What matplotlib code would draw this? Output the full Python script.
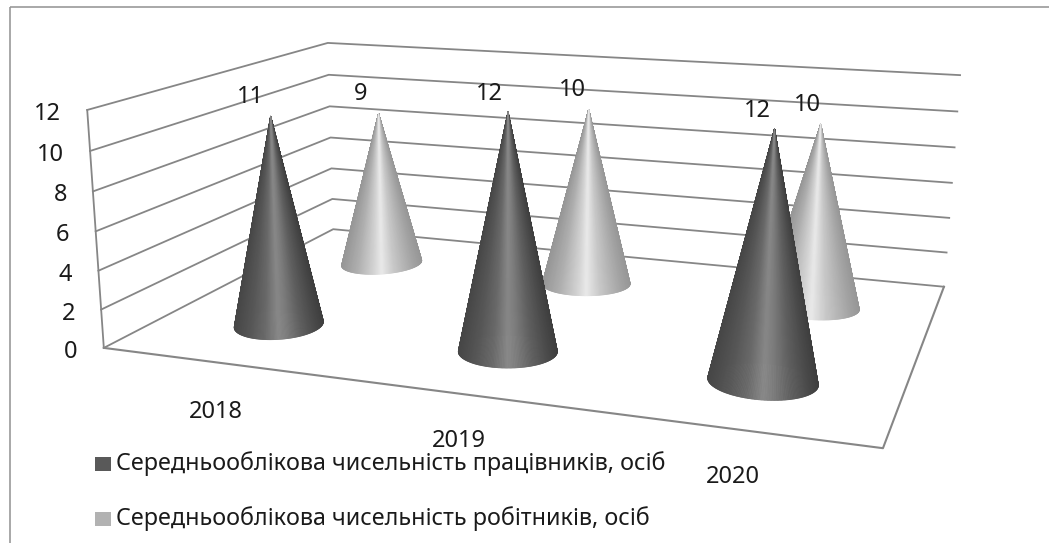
import numpy as np
import matplotlib
matplotlib.use('Agg')
from matplotlib import pyplot as plt
from matplotlib.collections import PolyCollection
from matplotlib.patches import Rectangle

years = ['2018', '2019', '2020']
series_names = ['Середньооблікова чисельність працівників, осіб',
                'Середньооблікова чисельність робітників, осіб']
workers_all = [11, 12, 12]
workers_manual = [9, 10, 10]
yticks = [0, 2, 4, 6, 8, 10, 12]

plt.rcParams['font.family'] = ['Noto Sans', 'DejaVu Sans']
TEXT = '#1a1a1a'
LINE = '#868686'

# scene coords: u along the years, v into the depth, z value -> screen pixels
scene = [(0, 0, 0), (0, 0, 12), (0, 2, 0), (0, 2, 12), (3, 2, 0), (3, 2, 12), (3, 0, 0)]
screen = [(104, 348), (87, 110), (333, 229), (328, 43), (944, 287), (960, 75), (883, 448)]


def fit_camera(pts3, pts2):
    rows = []
    for (u, v, z), (x, y) in zip(pts3, pts2):
        rows.append([u, v, z, 1, 0, 0, 0, 0, -x*u, -x*v, -x*z, -x])
        rows.append([0, 0, 0, 0, u, v, z, 1, -y*u, -y*v, -y*z, -y])
    return np.linalg.svd(np.array(rows, float))[2][-1].reshape(3, 4)


cam = fit_camera(scene, screen)


def project(u, v, z):
    u, v, z = np.broadcast_arrays(u, v, z)
    p = cam @ np.stack([u, v, z, np.ones_like(u)], dtype=float)
    return p[0]/p[2], p[1]/p[2]


def cone(ax, u, v, value, stops, shades, flat, ru=0.205):
    cx, cy = project(u, v, 0)
    xl, _ = project(u-ru, v, 0)
    xr, _ = project(u+ru, v, 0)
    a = (xr-xl)/2
    tilt = 0.065*(u-1.5)
    ang = np.linspace(0, 2*np.pi, 241)
    bx = cx + a*np.cos(ang)
    by = cy + flat*a*np.sin(ang) + tilt*a*np.cos(ang)
    tx, ty = project(u, v, value)
    t = (bx - bx.min())/(bx.max() - bx.min())
    polys, cols = [], []
    # far side first, near side painted over it
    order = sorted(range(240), key=lambda i: np.sin(ang[i]))
    for i in order:
        polys.append([(tx, ty), (bx[i], by[i]), (bx[i+1], by[i+1])])
        g = np.interp((t[i]+t[i+1])/2, stops, shades)/255
        cols.append((g, g, g))
    ax.add_collection(PolyCollection(polys, facecolors=cols, edgecolors=cols, linewidths=0.6, zorder=3))
    return tx, ty


fig = plt.figure(figsize=(10.49, 5.43), dpi=100)
ax = fig.add_axes([0, 0, 1, 1])
ax.set_xlim(0, 1049)
ax.set_ylim(543, 0)
ax.axis('off')
ax.add_patch(Rectangle((10, 7), 1100, 600, fill=False, ec='#999999', lw=1.2))

# walls and floor
for z in yticks:
    x, y = project([0, 0, 3], [0, 2, 2], z)
    ax.plot(x, y, color=LINE, lw=1.3, zorder=1)
    px, py = project(0, 0, z)
    ax.text(px-26, py+4, str(z), ha='right', va='center', fontsize=17, color=TEXT)
x, y = project([0, 3, 3], [0, 0, 2], 0)
ax.plot(x, y, color=LINE, lw=1.5, zorder=1)
x, y = project([0, 0], [0, 0], [0, 12])
ax.plot(x, y, color=LINE, lw=1.3, zorder=1)

dark_stops = [0, .2, .35, .5, .58, .75, 1]
dark_shades = [70, 88, 105, 135, 125, 95, 62]
light_stops = [0, .2, .4, .5, .65, .85, 1]
light_shades = [150, 175, 210, 232, 200, 170, 150]

label_shift = [(-20, -19), (-18, -20), (-19, -18), (-16, -20), (-17, -18), (-13, -19)]
year_shift = [50, 47, 48]
for i in range(3):
    tx, ty = cone(ax, i+.5, 1.5, workers_manual[i], light_stops, light_shades, 0.27)
    dx, dy = label_shift[2*i+1]
    ax.text(tx+dx, ty+dy, str(workers_manual[i]), ha='center', va='center', fontsize=17, color=TEXT, zorder=5)
for i in range(3):
    tx, ty = cone(ax, i+.5, .5, workers_all[i], dark_stops, dark_shades, 0.33)
    dx, dy = label_shift[2*i]
    ax.text(tx+dx, ty+dy, str(workers_all[i]), ha='center', va='center', fontsize=17, color=TEXT, zorder=5)
    fx, fy = project(i+.5, 0, 0)
    ax.text(fx, fy+year_shift[i], years[i], ha='center', va='center', fontsize=17, color=TEXT)

# legend
for yy, col, name in zip([464, 519], ['#595959', '#b2b2b2'], series_names):
    ax.add_patch(Rectangle((95, yy-7), 16, 14, fc=col, ec='none'))
    ax.text(116, yy, name, ha='left', va='center', fontsize=16.8, color=TEXT)

fig.savefig('out.png', dpi=100)
